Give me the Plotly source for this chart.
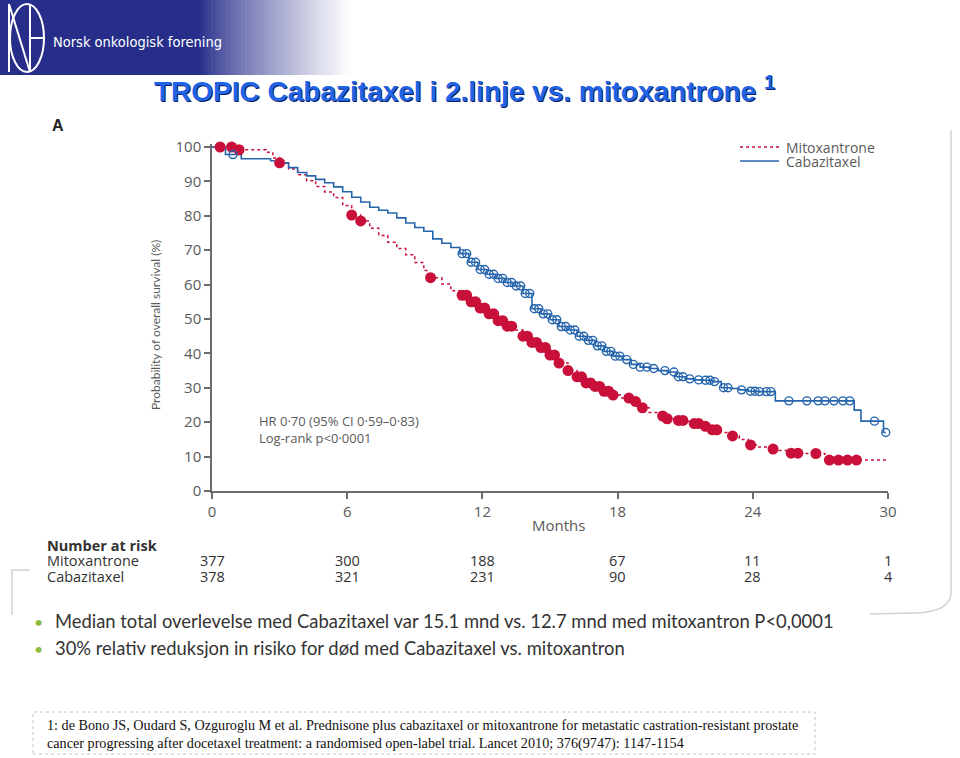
import plotly.graph_objects as go

W, H = 960, 758


def X(p):
    return p / W


def Y(p):
    return 1 - p / H


# ---------------- data ----------------
mito_t = [0, 1.0, 2.4, 2.7, 3.0, 3.4, 3.8, 4.2, 4.6, 5.0, 5.4, 5.8, 6.2, 6.6, 7.0, 7.4, 7.8, 8.2, 8.6, 9.0,
          9.4, 9.6, 10.2, 10.6, 11.0, 11.4, 11.8, 12.2, 12.6, 13.0, 13.4, 13.8, 14.2, 14.6, 15.0, 15.4, 15.8,
          16.2, 16.6, 17.0, 17.4, 17.8, 18.2, 18.6, 19.0, 19.4, 19.8, 20.2, 20.6, 21.0, 21.4, 21.8, 22.2, 22.6,
          23.0, 23.4, 23.8, 24.2, 24.6, 25.0, 25.6, 26.2, 27.0, 27.2, 30.0]
mito_s = [100, 99.2, 98.5, 96.8, 95.4, 93.6, 91.9, 90.2, 88.5, 86.9, 85.3, 83.0, 80.2, 78.5, 76.4, 74.3, 72.3,
          70.5, 68.7, 66.4, 64.1, 62.0, 60.2, 58.2, 56.9, 55.0, 53.2, 51.5, 49.5, 47.9, 46.8, 45.0, 43.2, 41.7,
          39.5, 37.2, 35.0, 33.2, 31.4, 30.4, 29.0, 27.9, 27.0, 26.0, 24.2, 22.8, 21.8, 21.0, 20.5, 20.2, 19.6,
          18.8, 17.8, 17.0, 16.0, 15.0, 13.4, 12.8, 12.2, 11.8, 11.0, 10.9, 10.9, 9.0, 9.0]
mito_cens_t = [0.36, 0.87, 1.2, 3.0, 6.2, 6.6, 9.7, 11.1, 11.3, 11.5, 11.7, 11.9, 12.1, 12.3, 12.5, 12.7, 12.9,
               13.1, 13.3, 13.8, 14.0, 14.2, 14.4, 14.6, 14.8, 15.0, 15.2, 15.4, 15.8, 16.2, 16.4, 16.6, 16.8,
               17.0, 17.2, 17.4, 17.6, 17.8, 18.5, 18.8, 19.1, 20.0, 20.2, 20.7, 20.9, 21.4, 21.6, 21.9, 22.2,
               22.4, 23.1, 23.9, 24.9, 25.7, 26.0, 26.8, 27.4, 27.8, 28.2, 28.6]
mito_cens_s = [100, 100, 99.2, 95.4, 80.2, 78.5, 62.0, 56.9, 56.9, 55.0, 55.0, 53.2, 53.2, 51.5, 51.5, 49.5,
               49.5, 47.9, 47.9, 45.0, 45.0, 43.2, 43.2, 41.7, 41.7, 39.5, 39.5, 37.2, 35.0, 33.2, 33.2, 31.4,
               31.4, 30.4, 30.4, 29.0, 29.0, 27.9, 27.0, 26.0, 24.2, 21.8, 21.0, 20.5, 20.5, 19.6, 19.6, 18.8,
               17.8, 17.8, 16.0, 13.4, 12.2, 11.0, 11.0, 10.9, 9.0, 9.0, 9.0, 9.0]

caba_t = [0, 0.6, 1.3, 2.6, 3.0, 3.4, 3.8, 4.2, 4.6, 5.0, 5.4, 5.8, 6.2, 6.6, 7.0, 7.4, 7.8, 8.2, 8.6, 9.0, 9.4,
          9.8, 10.2, 10.6, 11.0, 11.4, 11.8, 12.2, 12.6, 13.0, 13.4, 13.8, 14.2, 14.6, 15.0, 15.4, 15.8, 16.2,
          16.6, 17.0, 17.4, 17.8, 18.2, 18.6, 19.0, 19.4, 19.8, 20.2, 20.6, 21.0, 21.4, 21.8, 22.2, 22.6, 23.0,
          23.4, 23.8, 24.2, 24.6, 25.0, 28.5, 28.8, 29.8, 29.9]
caba_s = [100, 97.8, 96.6, 96.0, 95.3, 94.0, 92.6, 91.6, 90.6, 89.6, 88.4, 87.0, 85.4, 84.0, 82.5, 81.6, 80.8,
          79.4, 77.9, 76.6, 75.5, 73.3, 72.0, 70.8, 69.0, 66.5, 64.4, 63.0, 61.8, 60.6, 59.6, 57.4, 53.0, 51.5,
          49.8, 47.8, 46.8, 45.0, 43.8, 42.2, 40.6, 39.2, 38.2, 36.8, 36.0, 35.6, 35.0, 34.6, 33.2, 32.6, 32.3,
          32.2, 31.8, 30.0, 29.8, 29.4, 29.0, 28.9, 28.9, 26.2, 23.5, 20.3, 17.0, 17.0]
caba_cens_t = [0.93, 11.1, 11.3, 11.5, 11.7, 11.9, 12.1, 12.3, 12.5, 12.7, 12.9, 13.1, 13.3, 13.5, 13.7, 13.9,
               14.1, 14.3, 14.5, 14.7, 14.9, 15.1, 15.3, 15.5, 15.7, 15.9, 16.1, 16.3, 16.5, 16.7, 16.9, 17.1,
               17.3, 17.5, 17.7, 17.9, 18.1, 18.4, 18.7, 19.0, 19.3, 19.6, 20.1, 20.5, 20.7, 20.9, 21.2, 21.6,
               21.9, 22.1, 22.3, 22.7, 22.9, 23.5, 23.9, 24.1, 24.3, 24.6, 24.8, 25.6, 26.4, 26.9, 27.2, 27.6,
               28.0, 28.3, 29.4, 29.9]
caba_cens_s = [97.8, 69.0, 69.0, 66.5, 66.5, 64.4, 64.4, 63.0, 63.0, 61.8, 61.8, 60.6, 60.6, 59.6, 59.6, 57.4,
               57.4, 53.0, 53.0, 51.5, 51.5, 49.8, 49.8, 47.8, 47.8, 46.8, 46.8, 45.0, 45.0, 43.8, 43.8, 42.2,
               42.2, 40.6, 40.6, 39.2, 39.2, 38.2, 36.8, 36.0, 36.0, 35.6, 35.0, 34.6, 33.2, 33.2, 32.6, 32.3,
               32.2, 32.2, 31.8, 30.0, 30.0, 29.4, 29.0, 29.0, 28.9, 28.9, 28.9, 26.2, 26.2, 26.2, 26.2, 26.2,
               26.2, 26.2, 20.3, 17.0]

series_names = ["Mitoxantrone", "Cabazitaxel"]
x_ticks = [0, 6, 12, 18, 24, 30]
y_ticks = [0, 10, 20, 30, 40, 50, 60, 70, 80, 90, 100]
risk_months = [0, 6, 12, 18, 24, 30]
risk_mito = [377, 300, 188, 67, 11, 1]
risk_caba = [378, 321, 231, 90, 28, 4]

RED = "#c8103a"
BLUE = "#2565ad"
GREY = "#5a5a5a"
CHART_FONT = "Open Sans"

fig = go.Figure()
fig.add_trace(go.Scatter(x=mito_t, y=mito_s, mode="lines", line=dict(shape="hv", color=RED, width=1.5, dash="dot"),
                         name=series_names[0], showlegend=False, cliponaxis=False))
fig.add_trace(go.Scatter(x=caba_t, y=caba_s, mode="lines", line=dict(shape="hv", color=BLUE, width=1.6),
                         name=series_names[1], showlegend=False, cliponaxis=False))
fig.add_trace(go.Scatter(x=mito_cens_t, y=mito_cens_s, mode="markers",
                         marker=dict(symbol="circle", size=11, color=RED, line=dict(width=0)),
                         showlegend=False, cliponaxis=False))
fig.add_trace(go.Scatter(x=caba_cens_t, y=caba_cens_s, mode="markers",
                         marker=dict(symbol="circle-open", size=8, color=BLUE, line=dict(width=1.4)),
                         showlegend=False, cliponaxis=False))

shapes = []
annotations = []

# ---- header banner ----
shapes.append(dict(type="rect", xref="paper", yref="paper", x0=X(0), x1=X(200), y0=Y(75), y1=Y(0),
                   fillcolor="rgb(38,46,138)", line=dict(width=0), layer="below"))
n_strips = 40
for i in range(n_strips):
    f = (i + 0.5) / n_strips
    g = f ** 0.8
    r = int(38 + (255 - 38) * g)
    gg = int(46 + (255 - 46) * g)
    b = int(138 + (255 - 138) * g)
    x0 = 200 + i * (150 / n_strips)
    shapes.append(dict(type="rect", xref="paper", yref="paper", x0=X(x0), x1=X(x0 + 150 / n_strips + 0.6),
                       y0=Y(75), y1=Y(0), fillcolor=f"rgb({r},{gg},{b})", line=dict(width=0), layer="below"))

# logo
shapes.append(dict(type="circle", xref="paper", yref="paper", x0=X(10), x1=X(44), y0=Y(72), y1=Y(4),
                   line=dict(color="white", width=2)))
for (a, b_, c, d) in [(9, 4, 9, 72), (9, 4, 30, 72), (30, 4, 30, 72), (30, 38, 43, 38)]:
    shapes.append(dict(type="line", xref="paper", yref="paper", x0=X(a), y0=Y(b_), x1=X(c), y1=Y(d),
                       line=dict(color="white", width=2)))
annotations.append(dict(text="Norsk onkologisk forening", xref="paper", yref="paper", x=X(51), y=Y(42),
                        xanchor="left", yanchor="middle", showarrow=False,
                        font=dict(family="Liberation Sans Narrow, DejaVu Sans Condensed, Roboto",
                                  size=14.5, color="white")))

# ---- title with shadow ----
title_txt = "TROPIC Cabazitaxel i 2.linje vs. mitoxantrone <sup>1</sup>"
annotations.append(dict(text=title_txt, xref="paper", yref="paper", x=X(465.5), y=Y(90.5),
                        xanchor="center", yanchor="middle", showarrow=False,
                        font=dict(family="Liberation Sans", size=28, color="#0c1d5e", weight="bold")))
annotations.append(dict(text=title_txt, xref="paper", yref="paper", x=X(464), y=Y(89),
                        xanchor="center", yanchor="middle", showarrow=False,
                        font=dict(family="Liberation Sans", size=28, color="#2163e6", weight="bold")))

annotations.append(dict(text="<b>A</b>", xref="paper", yref="paper", x=X(50), y=Y(125), xanchor="left",
                        yanchor="middle", showarrow=False,
                        font=dict(family="Liberation Sans", size=16, color="#222")))

# ---- frame around chart image ----
shapes.append(dict(type="path", xref="paper", yref="paper",
                   path=f"M {X(951)} {Y(130)} L {X(951)} {Y(592)} Q {X(951)} {Y(612)} {X(915)} {Y(613)} L {X(870)} {Y(614)}",
                   line=dict(color="#d2d2d2", width=1.5)))
shapes.append(dict(type="path", xref="paper", yref="paper",
                   path=f"M {X(30)} {Y(570)} L {X(12)} {Y(570)} L {X(12)} {Y(615)}",
                   line=dict(color="#d2d2d2", width=1.5)))

# ---- legend (drawn) ----
shapes.append(dict(type="line", xref="paper", yref="paper", x0=X(740), x1=X(779), y0=Y(147), y1=Y(147),
                   line=dict(color=RED, width=1.5, dash="dot")))
shapes.append(dict(type="line", xref="paper", yref="paper", x0=X(740), x1=X(779), y0=Y(161), y1=Y(161),
                   line=dict(color=BLUE, width=1.6)))
for nm, yy in zip(series_names, [147, 161]):
    annotations.append(dict(text=nm, xref="paper", yref="paper", x=X(784), y=Y(yy), xanchor="left",
                            yanchor="middle", showarrow=False,
                            font=dict(family=CHART_FONT, size=14, color=GREY)))

# ---- stats text ----
annotations.append(dict(text="HR 0·70 (95% CI 0·59–0·83)<br>Log-rank p<0·0001", xref="paper", yref="paper",
                        x=X(257), y=Y(429), xanchor="left", yanchor="middle", align="left", showarrow=False,
                        font=dict(family=CHART_FONT, size=13, color=GREY)))

# ---- axis titles ----
annotations.append(dict(text="Months", xref="paper", yref="paper", x=X(558), y=Y(525), xanchor="center",
                        yanchor="middle", showarrow=False, font=dict(family=CHART_FONT, size=15, color=GREY)))
annotations.append(dict(text="Probability of overall survival (%)", xref="paper", yref="paper", x=X(155),
                        y=Y(325), xanchor="center", yanchor="middle", textangle=-90, showarrow=False,
                        font=dict(family="Lato", size=12, color=GREY)))

# ---- number at risk table ----
annotations.append(dict(text="<b>Number at risk</b>", xref="paper", yref="paper", x=X(45), y=Y(545),
                        xanchor="left", yanchor="middle", showarrow=False,
                        font=dict(family=CHART_FONT, size=14.5, color="#333")))
for nm, yy in zip(series_names, [560, 576]):
    annotations.append(dict(text=nm, xref="paper", yref="paper", x=X(45), y=Y(yy), xanchor="left",
                            yanchor="middle", showarrow=False,
                            font=dict(family=CHART_FONT, size=14.5, color="#333")))
for m, a, c in zip(risk_months, risk_mito, risk_caba):
    annotations.append(dict(text=str(a), xref="x", yref="paper", x=m, y=Y(560), xanchor="center",
                            yanchor="middle", showarrow=False,
                            font=dict(family=CHART_FONT, size=14.5, color="#333")))
    annotations.append(dict(text=str(c), xref="x", yref="paper", x=m, y=Y(576), xanchor="center",
                            yanchor="middle", showarrow=False,
                            font=dict(family=CHART_FONT, size=14.5, color="#333")))

# ---- bullets ----
bullets = ["Median total overlevelse med Cabazitaxel var 15.1 mnd vs. 12.7 mnd med mitoxantron P<0,0001",
           "30% relativ reduksjon in risiko for død med Cabazitaxel vs. mitoxantron"]
for txt, yy in zip(bullets, [621, 648]):
    annotations.append(dict(text="•", xref="paper", yref="paper", x=X(38), y=Y(yy), xanchor="center",
                            yanchor="middle", showarrow=False,
                            font=dict(family="Lato", size=16, color="#8bbd3c")))
    annotations.append(dict(text=txt, xref="paper", yref="paper", x=X(53), y=Y(yy), xanchor="left",
                            yanchor="middle", showarrow=False,
                            font=dict(family="Lato", size=18.4, color="#333")))

# ---- footnote ----
shapes.append(dict(type="rect", xref="paper", yref="paper", x0=X(33), x1=X(815), y0=Y(754), y1=Y(712),
                   line=dict(color="#b8c8cc", width=1, dash="dot"), fillcolor="rgba(0,0,0,0)"))
annotations.append(dict(text="1: de Bono JS, Oudard S, Ozguroglu M et al. Prednisone plus cabazitaxel or mitoxantrone "
                             "for metastatic castration-resistant prostate<br>cancer progressing after docetaxel "
                             "treatment: a randomised open-label trial. Lancet 2010; 376(9747): 1147-1154",
                        xref="paper", yref="paper", x=X(45), y=Y(734), xanchor="left", yanchor="middle",
                        align="left", showarrow=False,
                        font=dict(family="Liberation Serif", size=14.2, color="#111")))

y_top = 101
y_bottom_px, px_per_unit = 491, 3.44
fig.update_layout(
    width=W, height=H, margin=dict(l=0, r=0, t=0, b=0, pad=0, autoexpand=False),
    paper_bgcolor="white", plot_bgcolor="white", showlegend=False, hovermode=False,
    shapes=shapes, annotations=annotations,
    xaxis=dict(domain=[X(212), X(888)], range=[0, 30], tickvals=x_ticks, ticks="outside", ticklen=6,
               tickwidth=1.5, tickcolor="#6b6b6b", showline=True, linecolor="#6b6b6b", linewidth=1.5,
               showgrid=False, zeroline=False, automargin=False,
               tickfont=dict(family=CHART_FONT, size=15, color=GREY)),
    yaxis=dict(domain=[Y(y_bottom_px), Y(y_bottom_px - y_top * px_per_unit)], range=[0, y_top],
               tickvals=y_ticks, ticks="outside", ticklen=6, tickwidth=1.5, tickcolor="#6b6b6b",
               showline=True, linecolor="#6b6b6b", linewidth=1.5, showgrid=False, zeroline=False,
               automargin=False, tickfont=dict(family=CHART_FONT, size=15, color=GREY)),
)

fig.write_html("out.html", config={"displayModeBar": False},
               post_script="document.body.style.margin='0';document.body.style.overflow='hidden';")
